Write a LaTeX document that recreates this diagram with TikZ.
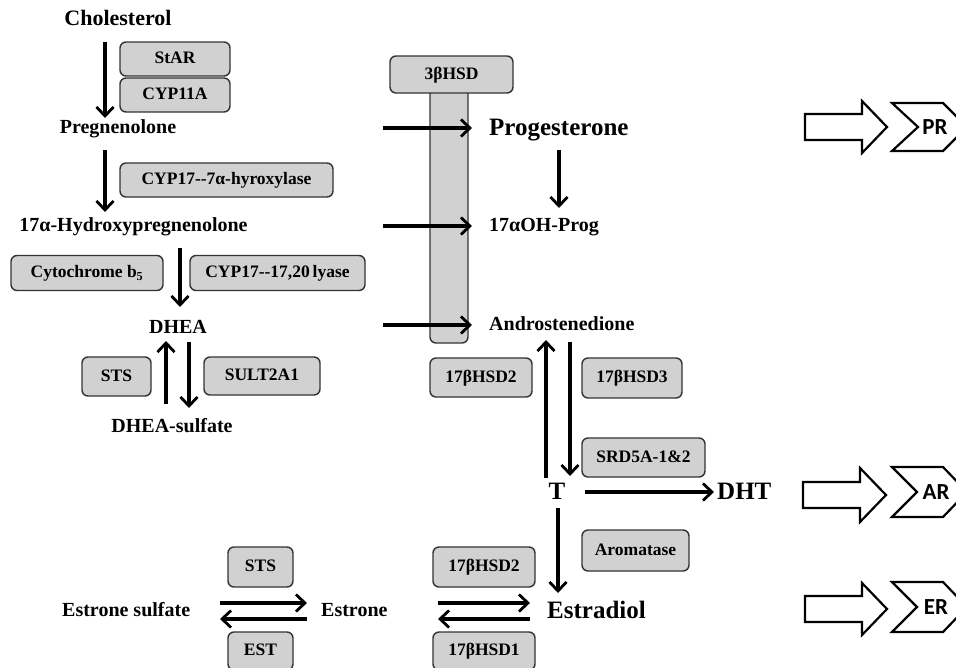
\documentclass[tikz,border=0pt]{standalone}
\usepackage{fontspec}
\setmainfont{Liberation Serif}
\newfontfamily\rfont{Carlito}
\usetikzlibrary{arrows.meta}
\begin{document}
\begin{tikzpicture}[x=1pt,y=-1pt,
  lbl/.style={font=\fontsize{20}{24}\selectfont\bfseries, inner sep=0pt, text height=14pt, text depth=4pt},
  biglbl/.style={font=\fontsize{25}{30}\selectfont\bfseries, inner sep=0pt, text height=17pt, text depth=5pt},
  enz/.style={draw=black!80, line width=1.4pt, fill=black!18, rounded corners=6pt, font=\fontsize{17.5}{20}\selectfont\bfseries, inner sep=0pt, text height=12pt, text depth=3pt},
  arr/.style={line width=3.2pt, -{Straight Barb[length=9pt,width=17pt,line width=2.8pt]}},
  blk/.style={draw, line width=2.2pt, fill=white, line join=miter},
  rec/.style={font=\rfont\fontsize{23}{27}\selectfont\bfseries, inner sep=0pt},
]
\useasboundingbox (0,0) rectangle (956,667);

% 3betaHSD column
\draw[draw=black!80, line width=1.4pt, fill=black!18, rounded corners=6pt] (430,88) rectangle (468,343);

% enzyme boxes
\node[enz, minimum width=110pt, minimum height=34pt] (star) at (175,59) {StAR};
\node[enz, minimum width=110pt, minimum height=34pt] (cyp11) at (175,95) {CYP11A};
\node[enz, minimum width=213pt, minimum height=34pt] (cyp17a) at (226.5,180) {CYP17-{}-7α-hyroxylase};
\node[enz, minimum width=152pt, minimum height=35pt] (cytb) at (87,273) {Cytochrome b\textsubscript{5}};
\node[enz, minimum width=175pt, minimum height=35pt] (cyp17b) at (277.5,273) {CYP17-{}-17,20\,lyase};
\node[enz, minimum width=69pt, minimum height=39pt] (sts1) at (116.5,376.5) {STS};
\node[enz, minimum width=116pt, minimum height=38pt] (sult) at (262,376) {SULT2A1};
\node[enz, minimum width=123pt, minimum height=37pt] (hsd3b) at (451.5,74.5) {3βHSD};
\node[enz, minimum width=102pt, minimum height=39pt] (hsd2a) at (481,377.5) {17βHSD2};
\node[enz, minimum width=100pt, minimum height=40pt] (hsd3) at (632,378) {17βHSD3};
\node[enz, minimum width=123pt, minimum height=39pt] (srd) at (643.5,457.5) {SRD5A-1\&2};
\node[enz, minimum width=107pt, minimum height=41pt] (arom) at (635.5,550.5) {Aromatase};
\node[enz, minimum width=102pt, minimum height=40pt] (hsd2b) at (484,567) {17βHSD2};
\node[enz, minimum width=102pt, minimum height=38pt] (hsd1) at (484,651) {17βHSD1};
\node[enz, minimum width=65pt, minimum height=40pt] (sts2) at (260.5,567) {STS};
\node[enz, minimum width=65pt, minimum height=38pt] (est) at (260.5,651) {EST};

% metabolites
\node[lbl, font=\fontsize{22}{26}\selectfont\bfseries] (chol) at (118,20) {Cholesterol};
\node[lbl] (preg) at (118,128) {Pregnenolone};
\node[lbl] (ohpreg) at (133.5,226) {17α-Hydroxypregnenolone};
\node[lbl] (dhea) at (178,328) {DHEA};
\node[lbl] (dheas) at (172,427) {DHEA-sulfate};
\node[biglbl, anchor=west] (prog) at (489,129) {Progesterone};
\node[lbl, anchor=west] (ohprog) at (489,226) {17αOH-Prog};
\node[lbl, anchor=west] (andro) at (489,325) {Androstenedione};
\node[biglbl] (T) at (557,493) {T};
\node[biglbl, anchor=west] (dht) at (717,493) {DHT};
\node[biglbl, anchor=west] (e2) at (547,612) {Estradiol};
\node[lbl, anchor=west] (e1) at (321,611) {Estrone};
\node[lbl, anchor=west] (e1s) at (62,611) {Estrone sulfate};

% arrows
\draw[arr] (105,42) -- (105,118);
\draw[arr] (105,150) -- (105,212);
\draw[arr] (180,248) -- (180,307);
\draw[arr] (166,404) -- (166,341);
\draw[arr] (189,342) -- (189,408);
\draw[arr] (383,128) -- (472,128);
\draw[arr] (383,226) -- (472,226);
\draw[arr] (383,325) -- (472,325);
\draw[arr] (559,150) -- (559,208);
\draw[arr] (546,478) -- (546,340);
\draw[arr] (570,342) -- (570,476);
\draw[arr] (585,492) -- (714,492);
\draw[arr] (558,508) -- (558,593);
\draw[arr] (438,603) -- (530,603);
\draw[arr] (530,619) -- (438,619);
\draw[arr] (220,603) -- (307,603);
\draw[arr] (307,619) -- (220,619);

% receptor block arrows and chevrons
\draw[blk] (805,114) -- (862,114) -- (862,101) -- (887,127) -- (862,153) -- (862,140) -- (805,140) -- cycle;
\draw[blk] (892,103) -- (943,103) -- (967,127) -- (943,151) -- (892,151) -- (918,127) -- cycle;
\node[rec] (pr) at (935,127) {PR};

\draw[blk] (803,482) -- (860,482) -- (860,468) -- (886,495) -- (860,522) -- (860,508) -- (803,508) -- cycle;
\draw[blk] (892,467) -- (943,467) -- (967,492) -- (943,517) -- (892,517) -- (917,492) -- cycle;
\node[rec] (ar) at (936,492) {AR};

\draw[blk] (805,596) -- (862,596) -- (862,583) -- (887,609) -- (862,635) -- (862,622) -- (805,622) -- cycle;
\draw[blk] (892,582) -- (943,582) -- (967,607) -- (943,632) -- (892,632) -- (917,607) -- cycle;
\node[rec] (er) at (936,607) {ER};
\end{tikzpicture}
\end{document}
